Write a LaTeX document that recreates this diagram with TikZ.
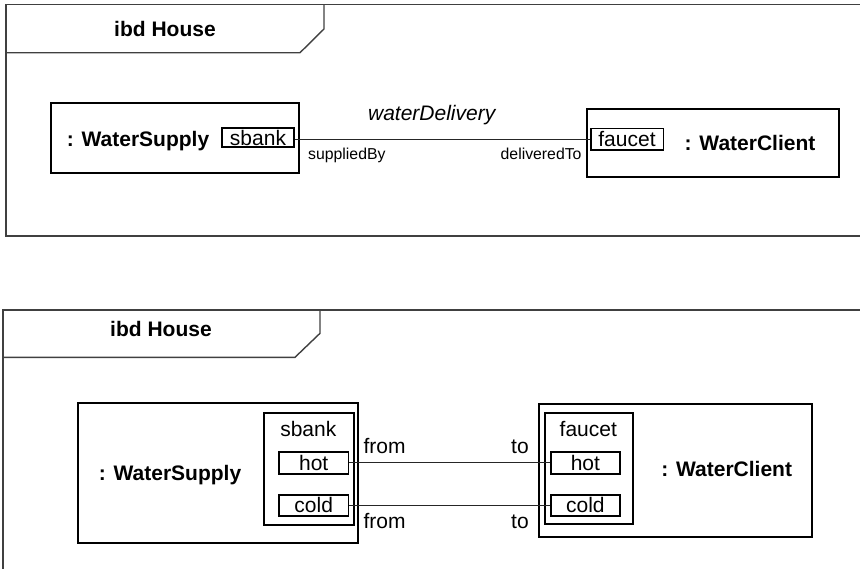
\documentclass[tikz,border=0pt]{standalone}
\usepackage{fontspec}
\setmainfont{Liberation Sans}
\begin{document}
\begin{tikzpicture}[x=1pt,y=-1pt,
  frame/.style={draw=black!75, line width=1.4pt},
  box/.style={draw=black, line width=1.8pt, inner sep=0pt, fill=none},
  port/.style={draw=black, line width=1.6pt, inner sep=0pt, font=\fontsize{21}{24}\selectfont},
  conn/.style={draw=black!85, line width=1.1pt},
  lbl/.style={inner sep=0pt, anchor=base, font=\fontsize{21}{24}\selectfont},
  blbl/.style={inner sep=0pt, anchor=base, font=\fontsize{21}{24}\selectfont\bfseries},
  slbl/.style={inner sep=0pt, font=\fontsize{15.8}{18}\selectfont}]
\useasboundingbox (0,0) rectangle (860,568);

% ---------- top frame ----------
\draw[frame] (860,4.3) -- (6,4.3) -- (6,236) -- (860,236);
\draw[frame] (6,52.7) -- (300,52.7) -- (324,29) -- (324,4.3);
\node[blbl] (title1) at (165,36) {ibd House};

\node[box, minimum width=248.6pt, minimum height=70pt] (ws1) at (175,138.3) {};
\node[blbl] (ws1t) at (138,146.5) {: WaterSupply};
\node[port, minimum width=72pt, minimum height=19pt] (sbank1) at (258,137.5) {sbank};

\node[box, minimum width=252.3pt, minimum height=68.3pt] (wc1) at (712.9,143.2) {};
\node[blbl] (wc1t) at (750,150) {: WaterClient};
\node[port, minimum width=72.6pt, minimum height=21.7pt] (faucet1) at (627,139.2) {faucet};

\draw[conn] (sbank1.east |- faucet1.west) -- (faucet1.west);
\node[lbl, font=\fontsize{21}{24}\selectfont\itshape] (wd) at (431.7,120.7) {waterDelivery};
\node[slbl, anchor=base west] (sup) at (308,159) {suppliedBy};
\node[slbl, anchor=base east] (del) at (581.7,159) {deliveredTo};

% ---------- bottom frame ----------
\draw[frame] (860,310) -- (3,310) -- (3,570);
\draw[frame] (3,357.3) -- (295,357.3) -- (320,333.3) -- (320,310);
\node[blbl] (title2) at (161,336.7) {ibd House};

\node[box, minimum width=280pt, minimum height=140pt] (ws2) at (218.3,472.7) {};
\node[blbl] (ws2t) at (170,480.7) {: WaterSupply};
\node[box, minimum width=90.3pt, minimum height=112.3pt] (sbank2) at (309.2,468.9) {};
\node[lbl] (sbank2t) at (308.3,436.7) {sbank};
\node[port, minimum width=69.3pt, minimum height=22.3pt] (hot2s) at (313.7,462.9) {hot};
\node[port, minimum width=69.3pt, minimum height=21pt] (cold2s) at (313.7,505.4) {cold};

\node[box, minimum width=272.4pt, minimum height=133.3pt] (wc2) at (675.5,470.7) {};
\node[blbl] (wc2t) at (726.7,476.7) {: WaterClient};
\node[box, minimum width=88.3pt, minimum height=111.3pt] (faucet2) at (589.2,468.4) {};
\node[lbl] (faucet2t) at (588.3,436.7) {faucet};
\node[port, minimum width=69.3pt, minimum height=22.3pt] (hot2c) at (585.4,462.9) {hot};
\node[port, minimum width=69.3pt, minimum height=21pt] (cold2c) at (585.4,505.4) {cold};

\draw[conn] (hot2s.east) -- (hot2c.west);
\draw[conn] (cold2s.east) -- (cold2c.west);
\node[lbl, anchor=base west] (from1) at (363.3,453.3) {from};
\node[lbl, anchor=base west] (from2) at (363.3,528.3) {from};
\node[lbl] (to1) at (520,453.3) {to};
\node[lbl] (to2) at (520,528.3) {to};
\end{tikzpicture}
\end{document}
